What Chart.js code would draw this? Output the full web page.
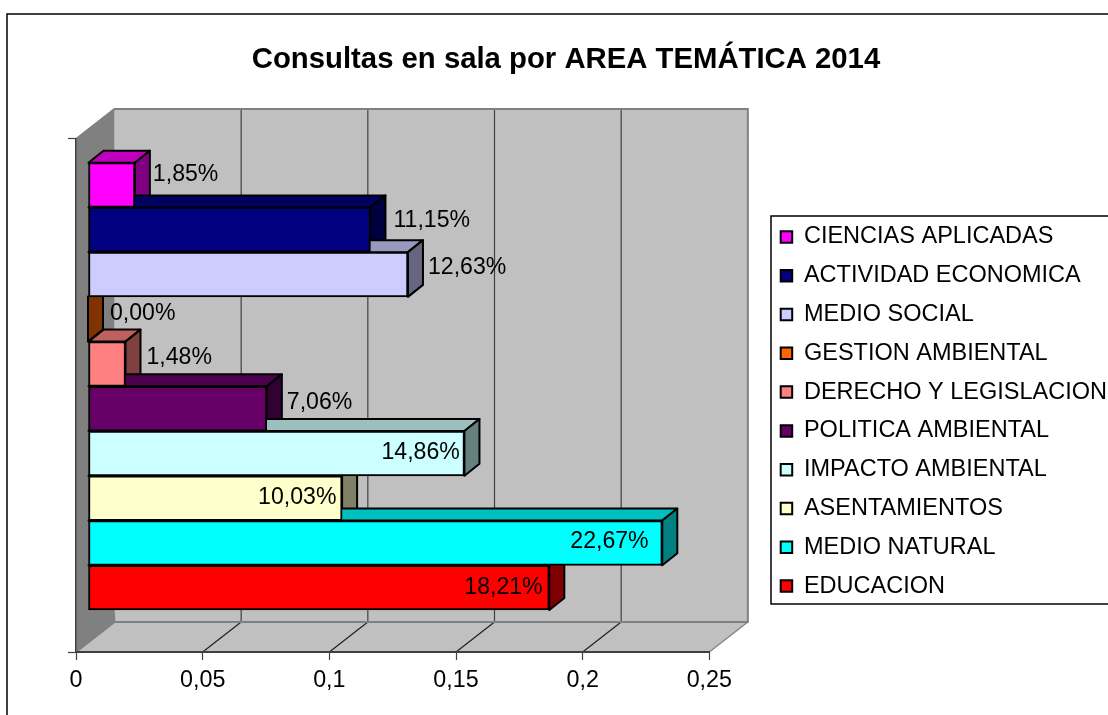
<!DOCTYPE html>
<html><head><meta charset="utf-8">
<style>html,body{margin:0;padding:0;background:#fff}canvas{display:block}</style>
<script src="https://cdn.jsdelivr.net/npm/chart.js@4"></script></head>
<body><canvas id="c" width="1108" height="715"></canvas>
<script>
const titleText = 'Consultas en sala por AREA TEMÁTICA 2014';
const categories = ['CIENCIAS APLICADAS','ACTIVIDAD ECONOMICA','MEDIO SOCIAL','GESTION AMBIENTAL','DERECHO Y LEGISLACION','POLITICA AMBIENTAL','IMPACTO AMBIENTAL','ASENTAMIENTOS','MEDIO NATURAL','EDUCACION'];
const values = [0.0185,0.1115,0.1263,0,0.0148,0.0706,0.1486,0.1003,0.2267,0.1821];
const frontColors = ['#FF00FF','#000080','#CCCCFF','#FF6600','#FF8080','#660066','#CCFFFF','#FFFFCC','#00FFFF','#FF0000'];
const xTicks = [0,0.05,0.1,0.15,0.2,0.25];
// label nudges relative to the bar end / centre, in pixels
const labelDx = [18,23,20,22,21,20,-83,-84,-92,-85];
const labelDy = [-10,-9,-7,-6,-6,-6,-1,-1,-1,0];

const FONT = '"Liberation Sans", Arial, sans-serif';
Chart.defaults.font.family = FONT;
Chart.defaults.color = '#000';
const DX=38.5, DY=-30, BAR_SHIFT=12, BDX=15, BDY=-12;
function shade(hex,f){const n=parseInt(hex.slice(1),16);
  return `rgb(${Math.round((n>>16&255)*f)},${Math.round((n>>8&255)*f)},${Math.round((n&255)*f)})`;}
function poly(ctx,pts,fill,stroke,lw){ctx.beginPath();pts.forEach((p,i)=>i?ctx.lineTo(p[0],p[1]):ctx.moveTo(p[0],p[1]));ctx.closePath();
  if(fill){ctx.fillStyle=fill;ctx.fill();} if(stroke){ctx.strokeStyle=stroke;ctx.lineWidth=lw;ctx.stroke();}}

const threeD = {
  id:'threeD',
  afterLayout(chart){
    const l=chart.legend; const h=l.bottom-l.top;
    l.left=765.4; l.right=1200; l.top=54; l.bottom=54+h;
  },
  beforeDraw(chart){
    const ctx=chart.ctx,{left:L,right:R,top:T,bottom:B}=chart.chartArea;
    ctx.save();
    ctx.fillStyle='#fff';ctx.fillRect(0,0,chart.width,chart.height);
    ctx.strokeStyle='#000';ctx.lineWidth=1.5;ctx.strokeRect(7,14,1300,1000);
    ctx.lineWidth=1.5;ctx.strokeRect(771,216,500,388);
    poly(ctx,[[L+DX,T+DY],[R+DX,T+DY],[R+DX,B+DY],[L+DX,B+DY]],'#C0C0C0');
    poly(ctx,[[L,B],[L+DX,B+DY],[R+DX,B+DY],[R,B]],'#C0C0C0');
    poly(ctx,[[L,T],[L+DX,T+DY],[L+DX,B+DY],[L,B]],'#808080');
    ctx.lineWidth=1.2;
    chart.scales.x.ticks.forEach((t,i)=>{
      const x=chart.scales.x.getPixelForValue(t.value);
      if(i>0&&i<xTicks.length-1){
        ctx.strokeStyle='#404040';ctx.beginPath();ctx.moveTo(x+DX,T+DY);ctx.lineTo(x+DX,B+DY);ctx.stroke();
      }
      if(i>0){ctx.strokeStyle=i<xTicks.length-1?'#202020':'#808080';ctx.beginPath();ctx.moveTo(x,B);ctx.lineTo(x+DX,B+DY);ctx.stroke();}
    });
    ctx.strokeStyle='#808080';ctx.lineWidth=2;ctx.lineJoin='miter';
    ctx.beginPath();ctx.moveTo(L,T);ctx.lineTo(L+DX,T+DY);ctx.lineTo(R+DX,T+DY);ctx.lineTo(R+DX,B+DY);ctx.lineTo(L+DX,B+DY);ctx.closePath();ctx.stroke();
    ctx.beginPath();ctx.moveTo(L,B);ctx.lineTo(L+DX,B+DY);ctx.stroke();
    ctx.restore();
  },
  beforeDatasetsDraw(chart){
    const ctx=chart.ctx;
    ctx.save();ctx.translate(BAR_SHIFT,0);ctx.lineJoin='round';
    chart.getDatasetMeta(0).data.forEach((el,i)=>{
      const {x,y,base,height}=el.getProps(['x','y','base','height'],true);
      const t=y-height/2,b=y+height/2;
      poly(ctx,[[base,t],[base+BDX,t+BDY],[x+BDX,t+BDY],[x,t]],shade(frontColors[i],0.75),'#000',2);
      poly(ctx,[[x,t],[x+BDX,t+BDY],[x+BDX,b+BDY],[x,b]],shade(frontColors[i],0.5),'#000',2);
    });
  },
  afterDatasetsDraw(chart){
    const ctx=chart.ctx;
    ctx.restore();
    ctx.save();
    ctx.font='23.1px '+FONT;ctx.fillStyle='#000';ctx.textBaseline='middle';ctx.textAlign='left';
    chart.getDatasetMeta(0).data.forEach((el,i)=>{
      const {x,y}=el.getProps(['x','y'],true);
      const s=(values[i]*100).toFixed(2).replace('.',',')+'%';
      ctx.fillText(s,x+BAR_SHIFT+labelDx[i],y+labelDy[i]);
    });
    ctx.restore();
  }
};

new Chart(document.getElementById('c'),{
  type:'bar',
  data:{labels:categories,datasets:[{
    data:values.map((v,i)=>({x:v,y:i})),
    backgroundColor:frontColors,borderColor:'#000',borderWidth:2,borderSkipped:false,
    barThickness:44.73,clip:false
  }]},
  plugins:[threeD],
  options:{
    indexAxis:'y',responsive:false,animation:false,devicePixelRatio:1,
    layout:{padding:{left:24,right:0,top:0,bottom:0}},
    plugins:{
      tooltip:{enabled:false},
      title:{display:true,text:titleText,color:'#000',font:{size:29.3,weight:'bold',family:FONT},padding:{top:42.4,bottom:61.4}},
      legend:{display:true,position:'right',align:'center',
        labels:{font:{size:23.5,family:FONT},color:'#000',boxWidth:11.5,boxHeight:11.5,padding:15.3,
          generateLabels(){return categories.map((c,i)=>({text:c,fillStyle:frontColors[i],strokeStyle:'#000',lineWidth:2,hidden:false,index:i}));}}}
    },
    scales:{
      x:{type:'linear',min:xTicks[0],max:xTicks[xTicks.length-1],position:'bottom',
        afterBuildTicks(s){s.ticks=xTicks.map(v=>({value:v}));},
        afterFit(s){s.height=63;},
        grid:{drawOnChartArea:false,drawTicks:true,tickLength:8,tickColor:'#404040',tickWidth:1.2},
        border:{display:true,color:'#404040',width:2},
        ticks:{padding:6.5,maxRotation:0,autoSkip:false,font:{size:23.3,family:FONT},color:'#000',callback:v=>String(+(+v).toFixed(2)).replace('.',',')}},
      y:{type:'linear',reverse:true,offset:false,min:-1.03,max:10.438,position:'left',
        afterBuildTicks(s){s.ticks=[{value:s.min},{value:s.max}];},
        afterFit(s){s.width=52;},
        grid:{offset:false,drawOnChartArea:false,drawTicks:true,tickLength:8,tickColor:'#404040',tickWidth:1.2},
        border:{display:true,color:'#404040',width:1.5},
        ticks:{display:false}},
      gap:{type:'linear',position:'right',display:true,offset:false,min:0,max:1,
        afterFit(s){s.width=218;},
        grid:{display:false},border:{display:false},ticks:{display:false}}
    }
  }
});
</script></body></html>
